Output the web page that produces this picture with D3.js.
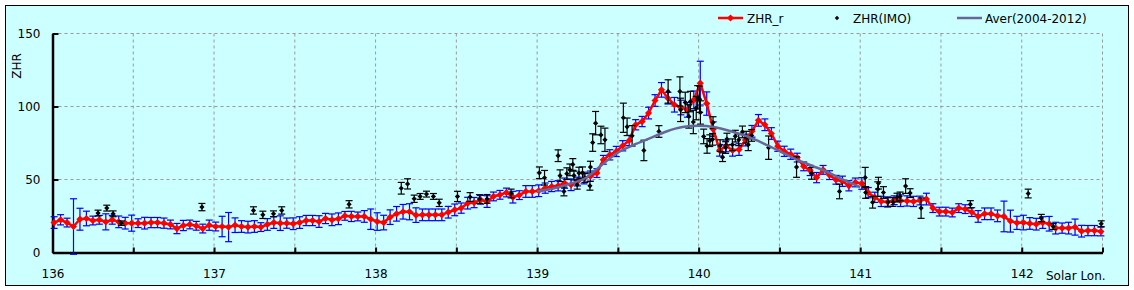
<!DOCTYPE html>
<html>
<head>
<meta charset="utf-8">
<script src="https://cdn.jsdelivr.net/npm/d3@7"></script>
<style>
  body { margin: 0; background: #fff; }
  svg text { font-family: "DejaVu Sans", sans-serif; font-size: 12px; fill: #000; }
</style>
</head>
<body>
<div id="chart"></div>
<script>
// ZHR_r (red) : solar longitude, value, error
const lonR = [
  136.01,136.05,136.09,136.13,136.17,136.21,136.25,136.29,136.33,136.37,
  136.41,136.45,136.49,136.53,136.57,136.61,136.65,136.69,136.73,136.77,
  136.81,136.85,136.89,136.93,136.97,137.01,137.05,137.09,137.13,137.17,
  137.21,137.25,137.29,137.33,137.37,137.41,137.45,137.49,137.53,137.57,
  137.61,137.65,137.69,137.73,137.77,137.81,137.85,137.89,137.93,137.97,
  138.01,138.05,138.09,138.13,138.17,138.21,138.25,138.29,138.33,138.37,
  138.41,138.45,138.49,138.53,138.57,138.61,138.65,138.69,138.73,138.77,
  138.81,138.85,138.89,138.93,138.97,139.01,139.05,139.09,139.13,139.17,
  139.21,139.25,139.29,139.33,139.37,139.41,139.45,139.49,139.53,139.57,
  139.61,139.65,139.69,139.73,139.77,139.81,139.85,139.89,139.93,139.97,
  140.01,140.05,140.09,140.13,140.17,140.21,140.25,140.29,140.33,140.37,
  140.41,140.45,140.49,140.53,140.57,140.61,140.65,140.69,140.73,140.77,
  140.81,140.85,140.89,140.93,140.97,141.01,141.05,141.09,141.13,141.17,
  141.21,141.25,141.29,141.33,141.37,141.41,141.45,141.49,141.53,141.57,
  141.61,141.65,141.69,141.73,141.77,141.81,141.85,141.89,141.93,141.97,
  142.01,142.05,142.09,142.13,142.17,142.21,142.25,142.29,142.33,142.37,
  142.41,142.45,142.49
];
const zhrR = [
  20.5,22.4,20.5,17.8,22.8,23.3,21.9,22.4,21,22.4,
  21,20.1,20.1,20.1,20.1,20.5,20.5,20.1,19.2,16.4,
  18.5,19.2,18.3,16.4,18.7,17.8,17.8,17.4,18.7,17.8,
  17.4,17.8,17.4,19.2,20.5,20.1,20.1,19.7,20.5,21.9,
  21.9,21.2,23.3,22.4,23.1,25.1,24.7,24.7,24.7,22.8,
  21.2,20.5,24.2,26.5,27.9,27.9,25.6,25.8,25.8,25.8,
  25.8,27.6,29.2,30.4,33.8,34.2,36.1,34.9,38.4,39.5,
  41.1,37.9,39.3,41.8,41.8,42.3,44.1,45.2,45.7,47.5,
  46.4,48.6,51,52.3,54.4,63.5,66.9,69.2,73.1,76.7,
  87.5,89.7,95.5,104.1,111.4,105.7,101.2,99.3,97.7,104.6,
  116,102,84.5,70,73,70,70.5,77,83,90.5,
  87.5,81.5,72.8,69.3,67.3,65,59,56.2,51.3,56.6,
  53,49.8,48.8,45.7,48,47.3,41,37.8,35,34.6,
  35.8,35.5,35.3,35,35.6,36.6,30.4,28,28,27.4,
  30.4,29.7,27.7,24.7,26.5,26.5,25.1,24.7,21.5,20.3,
  20.5,19.9,19.4,20.5,19.7,16.7,16.7,16.7,17.4,14.6,
  15,15,14.4
];
const errR = [
  4,3.5,3,19,7.5,5,3,3,5.5,3,
  4,4,5.5,3,4,3.5,3.5,3.5,3,3.5,
  3.5,3,3,3,3.5,3,7,10,5,4,
  4,4,3,4,4,5,3.5,4,4,3.5,
  3.5,4,3.5,4,4,3,3.5,3,4,7,
  6,5,5,5,5,5.5,5,4,4,4,
  4,4,4,3.5,4,3.5,3,4,3,3,
  3,4,3,4,4,4,3.5,3.5,3.5,3.5,
  4,3,4,3.5,3,3,3.5,3.5,3.5,3.5,
  3.5,3.5,4,4,5,4,5,5,5,6,
  15,8,5,4,4,4,4,4,4,4,
  4,4,3.5,3.5,3.5,3,3,3.5,3.5,3,
  3,3,3.5,3.5,3,4,3.5,3.5,3.5,3.5,
  3,4,3.5,3.5,3,4,3,3,3,3,
  3,3,3,4,4,4,4,10.5,7.5,4.5,
  5,4,4,4,5,4,3.5,4,5.5,4,
  3.5,3.5,3
];

// ZHR(IMO) (black)
const lonIMO = [
  136.282,136.336,136.375,136.426,136.925,137.244,137.302,137.368,137.419,137.836,
  138.159,138.198,138.239,138.276,138.315,138.358,138.394,138.507,138.585,138.643,
  138.690,138.839,139.014,139.046,139.130,139.142,139.166,139.184,139.203,139.221,
  139.228,139.248,139.259,139.281,139.296,139.330,139.327,139.344,139.362,139.395,
  139.420,139.534,139.557,139.588,139.661,139.754,139.811,139.884,139.888,139.917,
  139.939,139.949,139.967,139.985,139.994,140.006,140.011,140.031,140.052,140.069,
  140.086,140.089,140.133,140.148,140.167,140.175,140.209,140.227,140.248,140.271,
  140.294,140.307,140.328,140.433,140.606,140.699,140.872,141.031,141.034,141.077,
  141.109,141.113,141.144,141.172,141.203,141.228,141.247,141.281,141.309,141.377,
  141.682,142.040,142.121,142.195,142.492
];
const zhrIMO = [
  27,30.4,26.5,20.1,31.1,28.8,25.8,26.5,28.8,33,
  44,47,36.8,38.4,40,38.4,34,38.4,38,36.6,
  36.7,40.4,54.6,51.2,66.3,52.6,41.8,54,56.6,60.3,
  52.7,46.4,54.4,54.6,51,58.5,45.7,75.3,88.6,80.5,
  77.2,92.3,86.1,79.9,69.9,82.9,110.3,110.3,97.7,102.8,
  93.2,103.4,89.4,98.9,106.3,105,95.9,79.5,73,76.6,
  77.5,89,73.2,65.3,71.9,77.7,73.8,79.7,77.2,82.6,
  79,73.8,80.2,71.8,58.5,54.2,41.8,51.3,41.1,34.4,
  43.4,47.5,41.1,34.6,34.6,37.6,38.4,45.5,40.7,30.4,
  33,40.4,23.6,17.8,19.7
];
const errIMO = [
  2,2,2,1.5,2.5,2.5,2.5,2,2.5,2.5,
  4,3.5,2.5,2,2,2,2.5,3.5,3,3,
  3,3,4,5,4,4,3,4,4,4,
  3,3,4,4,3,4,3,6,8,6,
  8,10,6,7,7,4,8,10,8,7,
  8,7,8,8,8,9,8,5,5,4,
  4,4,4,3,4,4,4,4,4,4,
  4,4,4,8,7,4,5,7,4,4,
  5,4,4,3,3,3,3,5,3,7,
  2.5,3,2.5,2,2
];

// Aver(2004-2012)
const lonAver = [139.0,139.1,139.2,139.3,139.4,139.5,139.6,139.7,139.8,139.9,140.0,
                 140.1,140.2,140.3,140.4,140.5,140.6,140.7,140.8,140.9,141.0];
const zhrAver = [41.8,43.8,47,51,60,68.5,73.8,78.3,82.9,85.9,86.8,
                 85.8,83,79.5,74.8,69.5,64,59.5,55,49.5,44.8];

const xTicks = [136,136.5,137,137.5,138,138.5,139,139.5,140,140.5,141,141.5,142,142.5];
const yTicks = [0,50,100,150];

const width = 1134, height = 290;

const svg = d3.select("#chart").append("svg")
  .attr("width", width)
  .attr("height", height);

// frame
svg.append("rect")
  .attr("x", 5.5).attr("y", 5.5)
  .attr("width", 1123).attr("height", 280)
  .attr("fill", "#ccffff")
  .attr("stroke", "#000")
  .attr("stroke-width", 1);

const x = d3.scaleLinear().domain([136, 142.5]).range([52.5, 1102.5]);
const y = d3.scaleLinear().domain([0, 150]).range([252.5, 33.5]);

// grid
svg.append("g").selectAll("line")
  .data(xTicks.filter(d => d > 136))
  .enter().append("line")
  .attr("x1", d => x(d)).attr("x2", d => x(d))
  .attr("y1", y(150)).attr("y2", y(0))
  .attr("stroke", "#999")
  .attr("stroke-dasharray", "3,3");
svg.append("g").selectAll("line")
  .data(yTicks.filter(d => d > 0))
  .enter().append("line")
  .attr("x1", x(136)).attr("x2", x(142.5))
  .attr("y1", d => y(d)).attr("y2", d => y(d))
  .attr("stroke", "#999")
  .attr("stroke-dasharray", "3,3");

// axes
const xAxis = d3.axisBottom(x)
  .tickValues(xTicks)
  .tickSizeInner(-5)
  .tickSizeOuter(0)
  .tickPadding(17)
  .tickFormat(d => Number.isInteger(d) && d < 142.5 ? d : "");
const gx = svg.append("g")
  .attr("transform", `translate(0,${y(0)})`)
  .call(xAxis);
gx.select(".domain").attr("stroke-width", 2.5);
gx.selectAll(".tick line").attr("stroke-width", 2);
gx.selectAll("text").style("font-size", "12px").attr("font-family", "DejaVu Sans");

const yAxis = d3.axisLeft(y)
  .tickValues(yTicks)
  .tickSizeInner(-6)
  .tickSizeOuter(0)
  .tickPadding(12);
const gy = svg.append("g")
  .attr("transform", `translate(${x(136)},0)`)
  .call(yAxis);
gy.select(".domain").attr("stroke-width", 2.5);
gy.selectAll(".tick line").attr("stroke-width", 2);
gy.selectAll("text").style("font-size", "12px").attr("font-family", "DejaVu Sans");

svg.append("text")
  .attr("x", 1046).attr("y", 280)
  .text("Solar Lon.");

svg.append("text")
  .attr("transform", "translate(21,66) rotate(-90)")
  .attr("text-anchor", "middle")
  .text("ZHR");

const redData = lonR.map((d, i) => ({ lon: d, v: zhrR[i], e: errR[i] }));
const imoData = lonIMO.map((d, i) => ({ lon: d, v: zhrIMO[i], e: errIMO[i] }));
const averData = lonAver.map((d, i) => ({ lon: d, v: zhrAver[i] }));

function errorBars(g, data, color, capW) {
  const eg = g.selectAll("g").data(data).enter().append("g");
  eg.append("line")
    .attr("x1", d => x(d.lon)).attr("x2", d => x(d.lon))
    .attr("y1", d => y(Math.max(d.v - d.e, -2))).attr("y2", d => y(d.v + d.e))
    .attr("stroke", color).attr("stroke-width", 1.2);
  eg.append("line")
    .attr("x1", d => x(d.lon) - capW).attr("x2", d => x(d.lon) + capW)
    .attr("y1", d => y(d.v + d.e)).attr("y2", d => y(d.v + d.e))
    .attr("stroke", color).attr("stroke-width", 1.2);
  eg.append("line")
    .attr("x1", d => x(d.lon) - capW).attr("x2", d => x(d.lon) + capW)
    .attr("y1", d => y(Math.max(d.v - d.e, -2))).attr("y2", d => y(Math.max(d.v - d.e, -2)))
    .attr("stroke", color).attr("stroke-width", 1.2);
}

function diamond(r) {
  return `M0,${-r}L${r},0L0,${r}L${-r},0Z`;
}

// blue error bars of ZHR_r
errorBars(svg.append("g"), redData, "#0000ff", 3.5);

// ZHR_r line and markers
const line = d3.line().x(d => x(d.lon)).y(d => y(d.v));
svg.append("path")
  .datum(redData)
  .attr("d", line)
  .attr("fill", "none")
  .attr("stroke", "#ff0000")
  .attr("stroke-width", 2.5);
svg.append("g").selectAll("path")
  .data(redData)
  .enter().append("path")
  .attr("d", diamond(3.6))
  .attr("transform", d => `translate(${x(d.lon)},${y(d.v)})`)
  .attr("fill", "#ff0000");

// ZHR(IMO)
errorBars(svg.append("g"), imoData, "#000", 3.5);
svg.append("g").selectAll("path")
  .data(imoData)
  .enter().append("path")
  .attr("d", diamond(2.6))
  .attr("transform", d => `translate(${x(d.lon)},${y(d.v)})`)
  .attr("fill", "#000");

// Aver line
svg.append("path")
  .datum(averData)
  .attr("d", d3.line().x(d => x(d.lon)).y(d => y(d.v)).curve(d3.curveMonotoneX))
  .attr("fill", "none")
  .attr("stroke", "#66669a")
  .attr("stroke-width", 2.5);

// legend
const lg = svg.append("g");
lg.append("line").attr("x1", 718).attr("x2", 743).attr("y1", 18).attr("y2", 18)
  .attr("stroke", "#ff0000").attr("stroke-width", 2.5);
lg.append("path").attr("d", diamond(3.6)).attr("transform", "translate(730.5,18)").attr("fill", "#ff0000");
lg.append("text").attr("x", 747).attr("y", 22.5).text("ZHR_r");
lg.append("path").attr("d", diamond(2.2)).attr("transform", "translate(837,18)").attr("fill", "#000");
lg.append("text").attr("x", 853).attr("y", 22.5).text("ZHR(IMO)");
lg.append("line").attr("x1", 957).attr("x2", 982).attr("y1", 18).attr("y2", 18)
  .attr("stroke", "#66669a").attr("stroke-width", 2.5);
lg.append("text").attr("x", 985).attr("y", 22.5).text("Aver(2004-2012)");
</script>
</body>
</html>
